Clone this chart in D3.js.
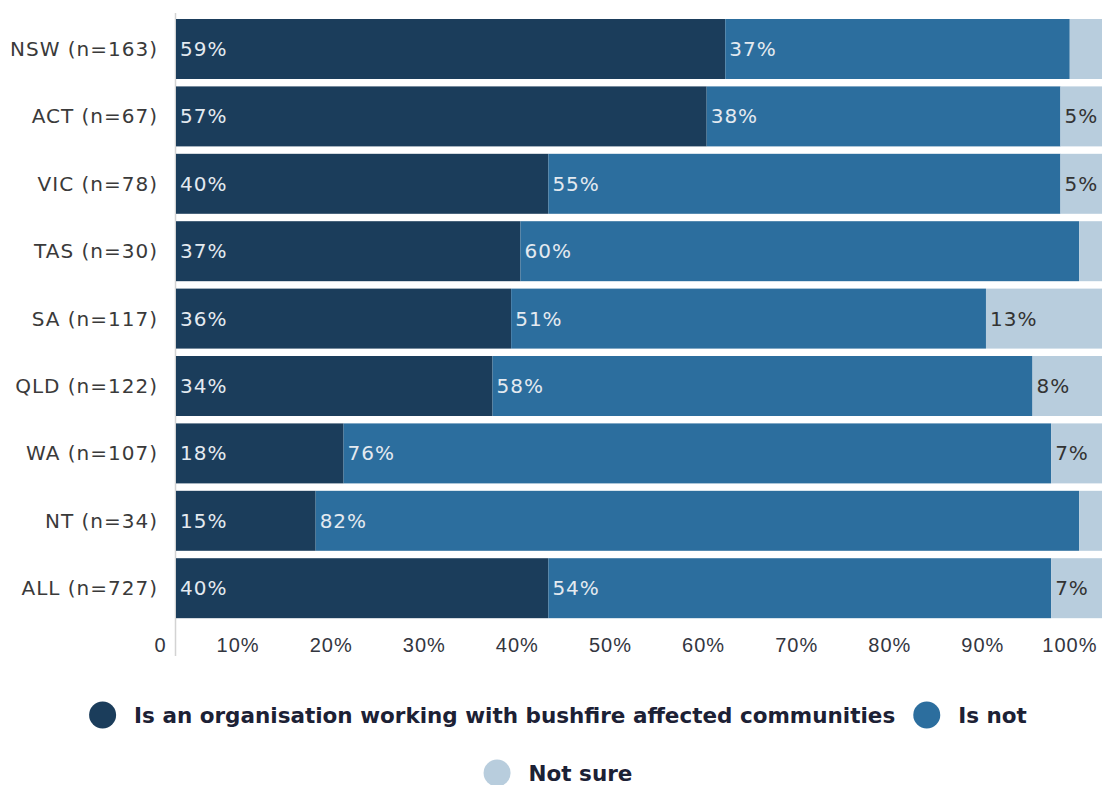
<!DOCTYPE html>
<html>
<head>
<meta charset="utf-8">
<script src="https://cdn.jsdelivr.net/npm/d3@7"></script>
<style>
  html, body { margin: 0; padding: 0; background: #ffffff; }
  svg { display: block; font-family: "DejaVu Sans", "Noto Sans", sans-serif; }
</style>
</head>
<body>
<svg id="chart" width="1102" height="785"></svg>
<script>
// Survey responses by state: share of respondents that are organisations
// working with bushfire affected communities
const categories = ["NSW (n=163)", "ACT (n=67)", "VIC (n=78)", "TAS (n=30)", "SA (n=117)",
                    "QLD (n=122)", "WA (n=107)", "NT (n=34)", "ALL (n=727)"];
const working  = [59, 57, 40, 37, 36, 34, 18, 15, 40];
const isNot    = [37, 38, 55, 60, 51, 58, 76, 82, 54];
const notSure  = [4, 5, 5, 3, 13, 8, 7, 3, 7];
const seriesNames = ["Is an organisation working with bushfire affected communities", "Is not", "Not sure"];
const tickValues = [0, 10, 20, 30, 40, 50, 60, 70, 80, 90, 100];
const tickLabels = ["0", "10%", "20%", "30%", "40%", "50%", "60%", "70%", "80%", "90%", "100%"];

const colors = ["#1b3d5b", "#2c6e9e", "#b8cddd"];
const labelColors = ["#e4eaf0", "#e4eaf0", "#333333"];

const svg = d3.select("#chart");

const x = d3.scaleLinear().domain([0, 100]).range([176, 1107]);
const y = d3.scaleBand().domain(categories).range([15.3, 621.9])
  .paddingInner(0.11).paddingOuter(0.055);

const rows = categories.map((c, i) => ({ cat: c, values: [working[i], isNot[i], notSure[i]] }));
const stack = d3.stack().keys([0, 1, 2]).value((d, k) => d.values[k]);
const layers = stack(rows);

// vertical baseline axis
svg.append("line")
  .attr("x1", 175.5).attr("x2", 175.5).attr("y1", 13).attr("y2", 656)
  .attr("stroke", "#d3d3d3").attr("stroke-width", 1.5);

const g = svg.append("g");
layers.forEach((layer, k) => {
  const lg = g.append("g");
  lg.selectAll("rect").data(layer).join("rect")
    .attr("x", d => x(d[0]))
    .attr("y", d => y(d.data.cat))
    .attr("width", d => x(d[1]) - x(d[0]))
    .attr("height", y.bandwidth())
    .attr("fill", colors[k]);
  lg.selectAll("text").data(layer.filter(d => d.data.values[k] >= 5)).join("text")
    .attr("x", d => x(d[0]) + 4)
    .attr("y", d => y(d.data.cat) + y.bandwidth() / 2)
    .attr("dominant-baseline", "central")
    .attr("font-size", 20)
    .attr("letter-spacing", 1)
    .attr("fill", labelColors[k])
    .text(d => d.data.values[k] + "%");
});

// category labels
svg.append("g").selectAll("text").data(categories).join("text")
  .attr("x", 158)
  .attr("y", d => y(d) + y.bandwidth() / 2)
  .attr("text-anchor", "end")
  .attr("dominant-baseline", "central")
  .attr("font-size", 20)
  .attr("letter-spacing", 1)
  .attr("fill", "#3a3a3a")
  .text(d => d);

// x axis tick labels
const xAxis = d3.axisBottom(x).tickValues(tickValues)
  .tickFormat((d, i) => tickLabels[i]).tickSize(0).tickPadding(0);
const ax = svg.append("g").attr("transform", "translate(0,645)").call(xAxis);
ax.select(".domain").remove();
ax.selectAll("text")
  .attr("x", -10).attr("y", 0).attr("dy", null)
  .attr("text-anchor", "end")
  .attr("dominant-baseline", "central")
  .attr("font-size", 20)
  .attr("letter-spacing", 1)
  .attr("font-family", null)
  .attr("fill", "#33363f");

// legend, each row centred
const legendRows = [[0, 1], [2]];
const rowY = [715, 773];
const centreX = 558;
legendRows.forEach((items, r) => {
  const row = svg.append("g");
  let cursor = 0;
  const parts = [];
  items.forEach((k, j) => {
    const item = row.append("g");
    item.append("circle").attr("r", 13.5).attr("cx", 13.5).attr("cy", 0).attr("fill", colors[k]);
    const t = item.append("text").attr("x", 45).attr("y", 0)
      .attr("dominant-baseline", "central")
      .attr("font-size", 21.5).attr("font-weight", 600)
      .attr("fill", "#1c2135").text(seriesNames[k]);
    const w = 45 + t.node().getComputedTextLength();
    parts.push({ item, offset: cursor });
    cursor += w + (j < items.length - 1 ? 18 : 0);
  });
  const start = centreX - cursor / 2;
  parts.forEach(p => p.item.attr("transform", `translate(${start + p.offset},${rowY[r]})`));
});
</script>
</body>
</html>
